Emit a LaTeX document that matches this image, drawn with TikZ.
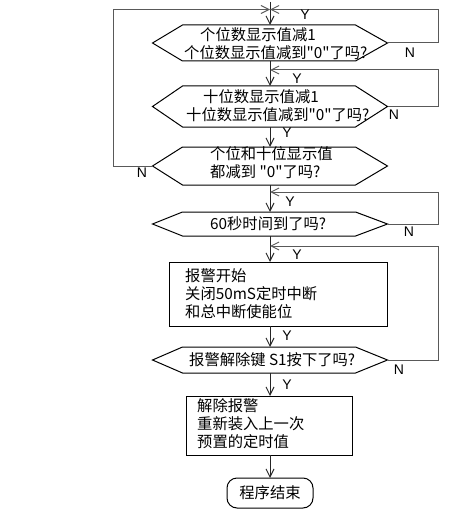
\documentclass[tikz,border=0pt]{standalone}
\usepackage{fontspec}
\setmainfont{Noto Sans CJK SC}[Ligatures=TeXOff]
\setsansfont{Liberation Sans}
\usetikzlibrary{arrows.meta}
\newcommand\drawhex[1]{\draw[shapeline] (#1.west) -- ([xshift=30pt]#1.north west) -- ([xshift=-32pt]#1.north east) -- (#1.east) -- ([xshift=-32pt]#1.south east) -- ([xshift=30pt]#1.south west) -- cycle;}
\begin{document}
\begin{tikzpicture}[x=1pt,y=-1pt,
  shapeline/.style={draw=black,line width=1pt},
  hexnode/.style={minimum width=235pt,minimum height=#1,inner sep=0pt,outer sep=0pt},
  boxnode/.style={draw=black,line width=1pt,inner sep=0pt,outer sep=0pt},
  txt/.style={anchor=west,align=left,inner sep=0pt,font=\fontsize{15.3pt}{18pt}\selectfont},
  lbl/.style={inner sep=0pt,font=\sffamily\fontsize{14pt}{14pt}\selectfont},
  arr/.style={draw=black!85,line width=1pt,-{Straight Barb[length=8pt,width=8pt]}},
  loop/.style={draw=black!65,line width=1pt,-{Straight Barb[length=8pt,width=8pt]}}]
\useasboundingbox[fill=white] (0,0) rectangle (455,516);
% shapes
\node[hexnode=36pt] (h1) at (270,43) {};
\node[hexnode=41pt] (h2) at (270,106.5) {};
\node[hexnode=38pt] (h3) at (270,166) {};
\node[hexnode=24pt] (h4) at (270,224) {};
\node[boxnode,minimum width=218pt,minimum height=64pt] (b1) at (278,294) {};
\node[hexnode=26pt] (h5) at (270,360) {};
\node[boxnode,minimum width=166pt,minimum height=59pt] (b2) at (269,425.5) {};
\node[boxnode,rounded corners=10pt,minimum width=86pt,minimum height=30pt] (e) at (270,493) {};
\drawhex{h1}\drawhex{h2}\drawhex{h3}\drawhex{h4}\drawhex{h5}
% texts
\node[txt] (t1) at (184,44) {\hspace*{16pt}个位数显示值减1\\个位数显示值减到"0"了吗?};
\node[txt] (t2) at (186,105.5) {\hspace*{17pt}十位数显示值减1\\十位数显示值减到"0"了吗?};
\node[txt] (t3) at (210,163) {个位和十位显示值\\都减到 "0"了吗?};
\node[txt] (t4) at (210,224) {60秒时间到了吗?};
\node[txt] (t5) at (189,360) {报警解除键 S1按下了吗?};
\node[txt] (t6) at (185,293.5) {报警开始\\关闭50mS定时中断\\和总中断使能位};
\node[txt] (t7) at (197,423.5) {解除报警\\重新装入上一次\\预置的定时值};
\node[inner sep=0pt,font=\fontsize{15.3pt}{18pt}\selectfont] (t8) at (e) {程序结束};
% junction coordinates
\coordinate (top) at (270,2);
\coordinate (j1) at (270,9.5);
\coordinate (j2) at (270,70);
\coordinate (j4) at (270,192);
\coordinate (j5) at (270,246);
\coordinate (rx) at (438,0);
\coordinate (lx) at (113,0);
% main flow
\draw[arr] (top) -- (h1.north);
\draw[arr] (h1.south) -- (h2.north);
\draw[arr] (h2.south) -- (h3.north);
\draw[arr] (h3.south) -- (h4.north);
\draw[arr] (h4.south) -- (h4.south |- b1.north);
\draw[arr] (b1.south -| h5.north) -- (h5.north);
\draw[arr] (h5.south) -- (h5.south |- b2.north);
\draw[arr] (b2.south -| e.north) -- (e.north);
% loops
\draw[loop] (h1.east) -- (h1.east -| rx) |- (j1);
\draw[loop] (h3.west) -- (h3.west -| lx) |- (j1);
\draw[loop] (h2.east) -- (h2.east -| rx) |- (j2);
\draw[loop] (h4.east) -- (h4.east -| rx) |- (j4);
\draw[loop] (h5.east) -- (h5.east -| rx) |- (j5);
% labels
\node[lbl] (y0) at (305,15) {Y};
\node[lbl] (y1) at (297,79) {Y};
\node[lbl] (y2) at (287,133) {Y};
\node[lbl] (y3) at (290,202) {Y};
\node[lbl] (y4) at (297,255) {Y};
\node[lbl] (y5) at (287,336) {Y};
\node[lbl] (y6) at (287,385) {Y};
\node[lbl] (n1) at (410,53) {N};
\node[lbl] (n2) at (394,115) {N};
\node[lbl] (n3) at (142,173) {N};
\node[lbl] (n4) at (409,232) {N};
\node[lbl] (n5) at (399,370) {N};
\end{tikzpicture}
\end{document}
